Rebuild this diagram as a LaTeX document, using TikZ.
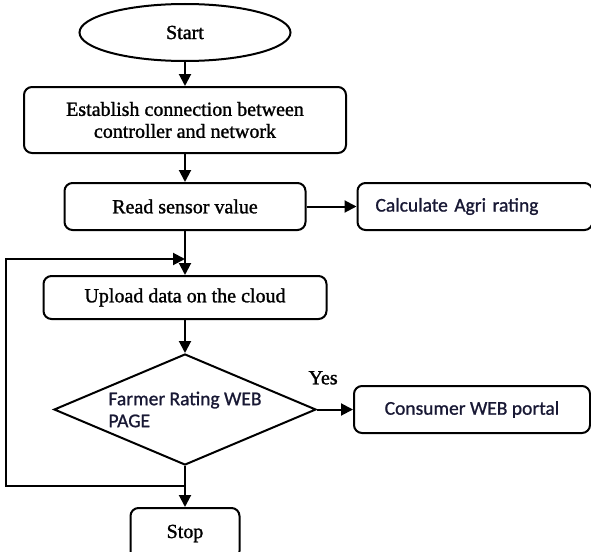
\documentclass[tikz,border=0pt]{standalone}
\usepackage{fontspec}
\setmainfont{Liberation Serif}[UprightFeatures={FakeBold=1.3}]
\newfontfamily\webfont{Carlito}[UprightFeatures={FakeBold=1.0}]
\usepackage{tikz}
\usetikzlibrary{positioning,shapes.geometric,arrows.meta}
\definecolor{webtext}{RGB}{24,24,52}
\tikzset{
  block/.style    = {shape=rectangle, rounded corners=8pt,
                     draw, line width=2pt, align=center, inner sep=0pt},
  process/.style  = {block, font=\fontsize{20}{22}\selectfont},
  webbox/.style   = {block, font=\webfont\fontsize{19.5}{22}\selectfont, text=webtext},
  terminal/.style = {shape=ellipse, draw, line width=2pt, inner sep=0pt,
                     font=\fontsize{20}{22}\selectfont},
  decision/.style = {shape=diamond, draw, line width=2pt, inner sep=0pt,
                     aspect=2.36, align=left,
                     font=\webfont\fontsize{19.5}{22}\selectfont, text=webtext}
}

\begin{document}
\begin{tikzpicture}
  [
    x                = 1pt,
    y                = -1pt,
    node distance    = 24pt,
    flow/.style      = {draw, line width=2pt, -{Triangle[length=12pt,width=12pt]}}
  ]
  \useasboundingbox (0,0) rectangle (591,551);

  \node (start) [terminal, minimum width=211pt, minimum height=57pt] at (185,32.5) {Start};
  \node (est) [process, below=24pt of start, minimum width=322pt, minimum height=66pt]
    {Establish connection between\\controller and network};
  \node (read) [process, below=28pt of est, minimum width=241pt, minimum height=47pt]
    {Read sensor value};
  \node (calc) [webbox, right=50pt of read, minimum height=47pt,
                text width=199pt, inner xsep=18pt, align=left]
    {Calculate Agri rating};
  \node (upload) [process, below=44pt of read, minimum width=283pt, minimum height=43pt]
    {Upload data on the cloud};
  \node (dec) [decision, below=33pt of upload, minimum width=262pt, minimum height=111pt]
    {Farmer Rating WEB\\PAGE};
  \node (cons) [webbox, right=36pt of dec, minimum width=236pt, minimum height=47pt]
    {Consumer WEB portal};
  \node (stop) [process, below=41pt of dec, minimum width=109pt, minimum height=51pt]
    {Stop};

  % loop back to the upload step
  \coordinate [below=28pt of read.south] (topjoin);
  \coordinate [below=20pt of dec.south] (backjoin);
  \coordinate [left=179pt of backjoin] (farleft);

  \draw [flow] (start) -- (est);
  \draw [flow] (est) -- (read);
  \draw [flow] (read) -- (calc);
  \draw [flow] (read) -- (upload);
  \draw [flow] (upload) -- (dec);
  \draw [flow] (dec) -- node [pos=0.17, above=24pt, inner sep=0pt,
                              font=\fontsize{20}{22}\selectfont] {Yes} (cons);
  \draw [flow] (dec) -- (stop);
  \draw [flow] (backjoin) -- (farleft) |- (topjoin);
\end{tikzpicture}
\end{document}
